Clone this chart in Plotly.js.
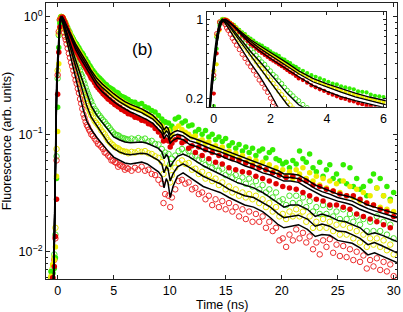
<!DOCTYPE html>
<html><head><meta charset="utf-8">
<script src="https://cdn.plot.ly/plotly-3.0.1.min.js"></script>
<style>html,body{margin:0;padding:0;background:#fff}</style>
</head><body><div id="chart" style="width:403px;height:312px"></div>
<script>
// ---- fit curves (black lines) ----
const tFit = [-0.6,-0.4,-0.3,-0.2,-0.1,0,0.1,0.2,0.3,0.4,0.5,0.7,1.0,1.3,1.6,2.0,2.3,2.6,3.0,3.5,4.0,4.5,5.0,5.5,6.0,6.5,7.0,7.5,8.0,8.5,9.0,9.3,9.5,9.7,9.85,10.05,10.3,10.7,11.2,11.8,12.5,13.0,13.7,14.5,15.3,16.0,16.7,17.5,18.3,19.0,19.7,20.2,20.8,21.5,22.3,23.0,23.6,24.3,25.0,25.7,26.3,27.0,27.7,28.3,29.0,29.6,30.3];
const fitGreenFilled = [0.002,0.004,0.012,0.1,0.22,0.38,0.62,0.88,1.0,0.99,0.96,0.88,0.76,0.66,0.59,0.51,0.46,0.41,0.35,0.3,0.268,0.243,0.222,0.205,0.19,0.18,0.172,0.165,0.155,0.145,0.13,0.121,0.109,0.116,0.113,0.099,0.104,0.108,0.104,0.095,0.09,0.086,0.081,0.076,0.071,0.067,0.063,0.059,0.055,0.052,0.049,0.046,0.046,0.045,0.041,0.037,0.035,0.033,0.031,0.03,0.029,0.027,0.025,0.024,0.023,0.022,0.021];
const fitYellowFilled = [0.002,0.004,0.011,0.09,0.2,0.35,0.58,0.84,0.97,1.0,0.97,0.88,0.74,0.64,0.56,0.48,0.43,0.385,0.33,0.28,0.25,0.226,0.206,0.19,0.177,0.167,0.16,0.153,0.144,0.135,0.121,0.112,0.1,0.107,0.104,0.091,0.097,0.1,0.097,0.088,0.084,0.08,0.075,0.071,0.066,0.062,0.059,0.055,0.051,0.048,0.046,0.043,0.043,0.042,0.038,0.0345,0.0325,0.031,0.029,0.028,0.027,0.025,0.0233,0.0223,0.0214,0.0205,0.0195];
const fitRedFilled = [0.002,0.004,0.011,0.09,0.2,0.35,0.58,0.84,0.96,1.0,0.97,0.87,0.72,0.61,0.53,0.45,0.405,0.36,0.31,0.26,0.23,0.207,0.19,0.176,0.164,0.155,0.148,0.141,0.133,0.124,0.111,0.103,0.092,0.099,0.096,0.084,0.089,0.093,0.09,0.082,0.078,0.074,0.07,0.066,0.061,0.058,0.054,0.051,0.047,0.045,0.042,0.04,0.04,0.039,0.035,0.032,0.03,0.0285,0.027,0.026,0.025,0.023,0.0215,0.0206,0.0198,0.019,0.018];
const fitGreenOpen = [0.002,0.004,0.012,0.1,0.22,0.38,0.62,0.88,1.0,0.97,0.92,0.8,0.64,0.52,0.43,0.33,0.27,0.22,0.175,0.145,0.125,0.11,0.095,0.09,0.086,0.085,0.086,0.086,0.084,0.08,0.076,0.071,0.062,0.067,0.065,0.053,0.058,0.065,0.068,0.064,0.058,0.054,0.05,0.046,0.042,0.039,0.037,0.035,0.032,0.029,0.026,0.024,0.025,0.025,0.023,0.02,0.021,0.02,0.0185,0.018,0.017,0.016,0.014,0.0145,0.0138,0.013,0.0122];
const fitYellowOpen = [0.002,0.004,0.012,0.1,0.22,0.38,0.62,0.88,1.0,0.96,0.9,0.77,0.6,0.48,0.38,0.28,0.22,0.175,0.14,0.118,0.102,0.085,0.076,0.071,0.068,0.067,0.068,0.069,0.068,0.064,0.06,0.056,0.047,0.053,0.051,0.04,0.046,0.053,0.056,0.052,0.047,0.044,0.041,0.038,0.034,0.032,0.03,0.029,0.026,0.024,0.021,0.0195,0.02,0.0205,0.019,0.0165,0.0172,0.0165,0.015,0.0148,0.014,0.013,0.0115,0.012,0.0112,0.0106,0.0098];
const fitRedOpen = [0.002,0.004,0.014,0.12,0.26,0.45,0.72,0.95,1.0,0.93,0.85,0.7,0.53,0.41,0.32,0.22,0.16,0.13,0.11,0.094,0.082,0.072,0.064,0.06,0.057,0.056,0.057,0.058,0.056,0.052,0.048,0.044,0.035,0.042,0.039,0.029,0.036,0.044,0.047,0.043,0.039,0.036,0.034,0.032,0.029,0.027,0.025,0.024,0.022,0.0195,0.017,0.016,0.0165,0.017,0.0155,0.0135,0.014,0.0138,0.0125,0.0122,0.0118,0.0108,0.0094,0.0098,0.0092,0.0087,0.0081];

// ---- measured data (markers) ----
const tData = [-0.6,-0.45,-0.3,-0.2,-0.1,0,0.1,0.2,0.3,0.4,0.5,0.65,0.8,1.0,1.2,1.4,1.6,1.8,2.0,2.2,2.4,2.6,2.8,
3.0,3.3,3.6,3.9,4.2,4.5,4.8,5.1,5.4,5.7,6.0,6.3,6.6,6.9,7.2,7.5,7.8,8.1,8.4,8.7,9.0,9.3,
9.45,9.6,9.9,10.05,10.2,
10.5,10.8,11.1,11.4,11.7,12.0,12.3,12.6,12.9,13.2,13.5,13.8,14.1,14.4,14.7,15.0,15.3,15.6,15.9,16.2,16.5,16.8,17.1,17.4,17.7,18.0,18.3,18.6,18.9,19.2,19.5,19.8,20.1,20.4,20.7,21.0,21.3,21.6,21.9,22.2,22.5,22.8,23.1,23.4,23.7,24.0,24.3,24.6,24.9,25.2,25.5,25.8,26.1,26.4,26.7,27.0,27.3,27.6,27.9,28.2,28.5,28.8,29.1,29.4,29.7,30.0];
const dataGreenFilled = [0.0068,0.0065,0.0072,0.0089,0.042,0.17,0.55,0.88,1.0,
0.99,0.97,0.91,0.85,0.77,0.70,0.65,0.60,0.56,0.52,0.49,0.45,0.42,0.39,
0.365,0.335,0.31,0.29,0.27,0.255,0.245,0.23,0.225,0.21,0.205,0.198,0.19,0.188,0.18,0.183,0.172,0.168,0.16,0.155,0.145,0.135,
0.125,0.128,0.125,0.11,0.118,
0.135,0.14,0.125,0.13,0.118, 0.12,0.105,0.11,0.1,0.108, 0.095,0.1,0.09,0.095,0.087, 0.092,0.08,0.085,0.076,0.082, 0.072,0.078,0.07,0.076,0.066, 0.072,0.075,0.063,0.07,0.074, 0.062,0.06,0.056,0.058,0.052, 0.06,0.056,0.072,0.062,0.058, 0.068,0.052,0.048,0.058,0.044, 0.05,0.055,0.042,0.046,0.04, 0.055,0.038,0.052,0.036,0.042, 0.034,0.036,0.03,0.04,0.046, 0.035,0.042,0.03,0.036,0.028, 0.032];
const dataYellowFilled = [0.0062,0.0078,0.0085,0.011,0.044,0.106,0.4,0.8,0.97,
1.0,0.98,0.91,0.84,0.75,0.68,0.62,0.57,0.53,0.49,0.455,0.42,0.39,0.36,
0.335,0.31,0.285,0.265,0.25,0.235,0.222,0.212,0.2,0.193,0.185,0.178,0.172,0.168,0.162,0.16,0.152,0.148,0.142,0.135,0.125,0.118,
0.105,0.11,0.108,0.092,0.1,
0.112,0.118,0.11,0.104,0.1, 0.095,0.097,0.088,0.09,0.084, 0.086,0.078,0.08,0.074,0.078, 0.07,0.072,0.066,0.069,0.062, 0.066,0.058,0.062,0.056,0.06, 0.053,0.058,0.05,0.055,0.048, 0.052,0.046,0.05,0.044,0.048, 0.042,0.05,0.046,0.052,0.042, 0.047,0.04,0.044,0.037,0.042, 0.035,0.04,0.033,0.038,0.032, 0.04,0.03,0.036,0.029,0.034, 0.027,0.032,0.026,0.03,0.025, 0.035,0.024,0.03,0.023,0.027, 0.022];
const dataRedFilled = [0.0055,0.006,0.0075,0.0135,0.028,0.22,0.5,0.82,0.96,
1.0,0.97,0.9,0.82,0.72,0.64,0.58,0.525,0.485,0.445,0.415,0.385,0.355,0.33,
0.3,0.275,0.25,0.232,0.215,0.2,0.19,0.18,0.172,0.163,0.157,0.15,0.147,0.14,0.138,0.132,0.13,0.123,0.12,0.112,0.105,0.097,
0.088,0.09,0.088,0.078,0.084,
0.09,0.095,0.085,0.088,0.076, 0.08,0.07,0.078,0.066,0.074, 0.062,0.07,0.058,0.066,0.056, 0.065,0.052,0.062,0.05,0.06, 0.048,0.057,0.047,0.054,0.044, 0.052,0.042,0.05,0.04,0.047, 0.038,0.045,0.036,0.043,0.035, 0.044,0.034,0.041,0.032,0.04, 0.03,0.037,0.028,0.036,0.027, 0.034,0.025,0.033,0.025,0.031, 0.024,0.03,0.023,0.03,0.021, 0.028,0.02,0.026,0.019,0.025, 0.018,0.023,0.017,0.022,0.016, 0.02];
const dataGreenOpen = [0.0058,0.0066,0.0095,0.014,0.065,0.3,0.7,0.93,1.0,
0.98,0.93,0.85,0.76,0.66,0.58,0.51,0.45,0.4,0.35,0.31,0.27,0.235,0.21,
0.19,0.165,0.15,0.138,0.128,0.118,0.108,0.1,0.098,0.093,0.092,0.09,0.092,0.09,0.093,0.09,0.092,0.087,0.088,0.083,0.082,0.075,
0.066,0.07,0.068,0.056,0.062,
0.066,0.072,0.075,0.07,0.072, 0.065,0.066,0.06,0.062,0.055, 0.058,0.052,0.054,0.049,0.051, 0.045,0.048,0.043,0.045,0.04, 0.043,0.038,0.042,0.036,0.04, 0.034,0.037,0.032,0.034,0.029, 0.032,0.027,0.028,0.025,0.03, 0.026,0.03,0.026,0.029,0.024, 0.027,0.022,0.024,0.021,0.025, 0.021,0.024,0.02,0.022,0.019, 0.023,0.019,0.021,0.018,0.02, 0.017,0.019,0.015,0.018,0.015, 0.02,0.015,0.018,0.014,0.017, 0.013];
const dataYellowOpen = [0.006,0.0072,0.009,0.016,0.075,0.35,0.72,0.95,1.0,
0.97,0.91,0.81,0.72,0.61,0.53,0.455,0.39,0.34,0.29,0.25,0.215,0.185,0.163,
0.146,0.13,0.12,0.108,0.1,0.089,0.083,0.078,0.076,0.072,0.071,0.069,0.071,0.07,0.072,0.071,0.072,0.069,0.068,0.065,0.063,0.058,
0.046,0.052,0.052,0.039,0.045,
0.052,0.057,0.06,0.056,0.057, 0.05,0.051,0.046,0.048,0.042, 0.045,0.04,0.042,0.037,0.039, 0.034,0.036,0.032,0.034,0.03, 0.032,0.029,0.031,0.028,0.03, 0.026,0.028,0.024,0.026,0.022, 0.024,0.02,0.021,0.019,0.022, 0.02,0.023,0.02,0.022,0.018, 0.02,0.016,0.018,0.016,0.019, 0.016,0.018,0.015,0.017,0.014, 0.017,0.014,0.016,0.013,0.015, 0.012,0.014,0.011,0.013,0.0115, 0.013,0.011,0.0125,0.0103,0.0115, 0.0095];
const dataRedOpen = [0.0055,0.006,0.0085,0.013,0.06,0.32,0.75,0.95,0.97,
0.9,0.8,0.68,0.59,0.49,0.41,0.35,0.29,0.245,0.2,0.165,0.138,0.12,0.11,
0.1,0.092,0.083,0.078,0.07,0.066,0.06,0.058,0.053,0.054,0.05,0.051,0.049,0.052,0.05,0.053,0.049,0.05,0.046,0.045,0.041,0.038,
0.026,0.031,0.03,0.024,0.029,
0.034,0.04,0.041,0.038,0.039, 0.034,0.035,0.031,0.032,0.028, 0.03,0.025,0.028,0.024,0.027, 0.023,0.026,0.022,0.024,0.02, 0.023,0.019,0.022,0.018,0.021, 0.018,0.02,0.016,0.018,0.015, 0.016,0.0125,0.013,0.011,0.014, 0.0125,0.0155,0.013,0.0145,0.012, 0.0135,0.0105,0.012,0.0095,0.0125, 0.011,0.0128,0.0098,0.0115,0.0092, 0.0112,0.009,0.0105,0.0085,0.01, 0.0082,0.0093,0.0072,0.0085,0.0075, 0.0088,0.007,0.0082,0.0068,0.0078, 0.0062];

// extra early-time samples (denser coverage in the 0-6 ns window)
const tDataEarly = [0.35,0.45,0.58,0.72,0.9,1.1,1.3,1.5,1.7,1.9,2.1,2.3,2.5,2.7,2.9,3.15,3.45,3.75,4.05,4.35,4.65,4.95,5.25,5.55,5.85,6.15];
const earlyGreenFilled = [1.0,0.99,0.94,0.89,0.81,0.74,0.675,0.62,0.585,0.545,0.5,0.475,0.44,0.41,0.38,0.35,0.32,0.3,0.28,0.265,0.25,0.24,0.228,0.215,0.208,0.2];
const earlyYellowFilled = [0.99,1.0,0.94,0.88,0.79,0.72,0.65,0.595,0.55,0.51,0.475,0.44,0.41,0.38,0.355,0.325,0.295,0.275,0.257,0.242,0.228,0.216,0.206,0.196,0.188,0.181];
const earlyRedFilled = [0.98,0.99,0.93,0.86,0.77,0.68,0.6,0.55,0.505,0.465,0.43,0.4,0.37,0.34,0.315,0.29,0.26,0.24,0.222,0.208,0.197,0.187,0.177,0.17,0.162,0.156];
const earlyGreenOpen = [1.0,0.96,0.89,0.81,0.71,0.62,0.54,0.48,0.42,0.37,0.325,0.285,0.25,0.222,0.198,0.176,0.158,0.144,0.132,0.122,0.113,0.104,0.099,0.096,0.093,0.091];
const earlyYellowOpen = [0.99,0.94,0.86,0.77,0.66,0.57,0.49,0.42,0.365,0.31,0.27,0.23,0.2,0.174,0.155,0.139,0.125,0.115,0.104,0.094,0.086,0.081,0.077,0.074,0.072,0.071];
const earlyRedOpen = [0.93,0.84,0.74,0.64,0.54,0.45,0.38,0.32,0.27,0.225,0.183,0.148,0.128,0.116,0.106,0.097,0.088,0.081,0.075,0.069,0.064,0.06,0.057,0.055,0.053,0.052];

// ---- ticks ----
const mainXTicks = [0,5,10,15,20,25,30];
const mainYTicks = [0.01,0.1,1];
const mainYTickText = ['10<sup>\u22122</sup>','10<sup>\u22121</sup>','10<sup>0</sup>'];
const mainYMinor = [0.006,0.007,0.008,0.009,0.02,0.03,0.04,0.05,0.06,0.07,0.08,0.09,0.2,0.3,0.4,0.5,0.6,0.7,0.8,0.9];
const insetXTicks = [0,2,4,6];
const insetYTicks = [0.2,1];
const insetYTickText = ['0.2','1'];
const insetYMinor = [0.3,0.4,0.5,0.6,0.7,0.8,0.9];

const series = [
  {y: dataGreenOpen,    e: earlyGreenOpen,    fit: fitGreenOpen,    color: '#4be52a', open: true},
  {y: dataYellowOpen,   e: earlyYellowOpen,   fit: fitYellowOpen,   color: '#e6e600', open: true},
  {y: dataRedOpen,      e: earlyRedOpen,      fit: fitRedOpen,      color: '#ec2a2a', open: true},
  {y: dataGreenFilled,  e: earlyGreenFilled,  fit: fitGreenFilled,  color: '#33ee00', open: false},
  {y: dataYellowFilled, e: earlyYellowFilled, fit: fitYellowFilled, color: '#eeee00', open: false},
  {y: dataRedFilled,    e: earlyRedFilled,    fit: fitRedFilled,    color: '#e00000', open: false}
];

const traces = [];
[['x','y',5.5,1.5],['x2','y2',4.2,1.3]].forEach(function(ax){
  series.forEach(function(s){
    traces.push({x: tData.concat(tDataEarly), y: s.y.concat(s.e), xaxis: ax[0], yaxis: ax[1], type: 'scatter', mode: 'markers',
      marker: s.open ? {symbol: 'circle-open', size: ax[2], color: s.color, line: {width: 1, color: s.color}}
                     : {symbol: 'circle', size: ax[2], color: s.color, line: {width: 0}},
      hoverinfo: 'skip'});
  });
  series.forEach(function(s){
    traces.push({x: tFit, y: s.fit, xaxis: ax[0], yaxis: ax[1], type: 'scatter', mode: 'lines',
      line: {color: '#000', width: ax[3]}, hoverinfo: 'skip'});
  });
});

const axBase = {showline: true, linecolor: '#222', linewidth: 1, mirror: 'ticks', ticks: 'inside',
  ticklen: 4, tickcolor: '#222', showgrid: false, zeroline: false, tickfont: {size: 12.5, color: '#000'}};

const layout = {
  width: 403, height: 312,
  margin: {l: 46, r: 6, t: 3, b: 33, pad: 0},
  paper_bgcolor: '#fff', plot_bgcolor: '#fff',
  showlegend: false,
  font: {family: '"Liberation Sans", Arial, sans-serif', size: 12.5, color: '#000'},
  xaxis: Object.assign({}, axBase, {domain: [0, 1], range: [-1.04, 30.3], tickmode: 'array', tickvals: mainXTicks}),
  yaxis: Object.assign({}, axBase, {domain: [0, 1], type: 'log', range: [-2.232, 0.119], tickmode: 'array',
    tickvals: mainYTicks, ticktext: mainYTickText,
    minor: {tickmode: 'array', tickvals: mainYMinor, ticks: 'inside', ticklen: 2, tickcolor: '#222'},
    title: {text: 'Fluorescence (arb. units)', font: {size: 12.5}, standoff: 4}}),
  xaxis2: Object.assign({}, axBase, {domain: [0.458, 0.968], anchor: 'y2', range: [-0.25, 6.08], tickmode: 'array',
    tickvals: insetXTicks, ticklen: 3}),
  yaxis2: Object.assign({}, axBase, {domain: [0.624, 0.968], anchor: 'x2', type: 'log', range: [-0.775, 0.068],
    tickmode: 'array', tickvals: insetYTicks, ticktext: insetYTickText, ticklen: 3,
    minor: {tickmode: 'array', tickvals: insetYMinor, ticks: 'inside', ticklen: 2, tickcolor: '#222'}}),
  annotations: [
    {text: '(b)', xref: 'paper', yref: 'paper', x: 0.239, y: 0.873, showarrow: false, font: {size: 17, color: '#000'}},
    {text: 'Time (ns)', xref: 'paper', yref: 'paper', x: 0.5, y: -0.063, xanchor: 'center', yanchor: 'top',
      showarrow: false, font: {size: 12.5, color: '#000'}}
  ]
};

Plotly.newPlot('chart', traces, layout, {staticPlot: true, displayModeBar: false});
</script>
</body></html>
